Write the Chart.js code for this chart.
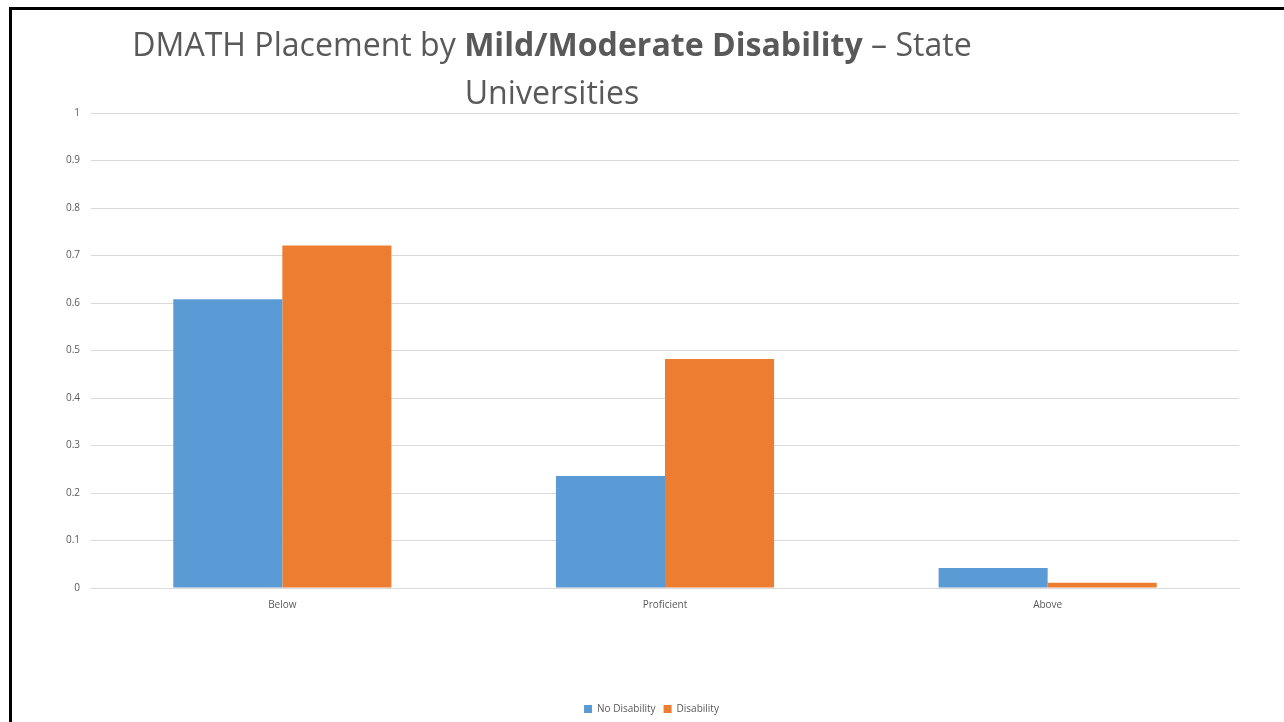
<!DOCTYPE html>
<html>
<head>
<meta charset="utf-8">
<style>
    html, body {
        margin: 0;
        padding: 0;
        width: 1284px;
        height: 722px;
        overflow: hidden;
        background: #fff;
        font-family: 'Open Sans', Arial, sans-serif;
    }
    .slide {
        position: absolute;
        left: 9px;
        top: 7px;
        width: 1400px;
        height: 800px;
        border: 3px solid #000;
        box-sizing: border-box;
    }
    .title {
        position: absolute;
        left: 52px;
        width: 1000px;
        top: 20px;
        text-align: center;
        font-size: 32.1px;
        line-height: 48px;
        color: #595959;
        white-space: nowrap;
    }
    .title b { font-weight: 700; }
    .chart-box {
        position: absolute;
        left: 0;
        top: 0;
        width: 1284px;
        height: 722px;
    }
</style>
</head>
<body>
<div class="slide"></div>
<div class="chart-box"><canvas id="placementChart"></canvas></div>
<div class="title">DMATH Placement by <b>Mild/Moderate Disability</b> – State<br>Universities</div>

<script src="https://cdn.jsdelivr.net/npm/chart.js"></script>
<script>
    // placement levels and share of students in each group
    const categories = ['Below', 'Proficient', 'Above'];
    const noDisability = [0.608, 0.236, 0.042];
    const disability = [0.721, 0.482, 0.011];
    const yTicks = [0, 0.1, 0.2, 0.3, 0.4, 0.5, 0.6, 0.7, 0.8, 0.9, 1];

    const textColor = '#595959';
    const gridColor = '#d9d9d9';

    const ctx = document.getElementById('placementChart').getContext('2d');
    new Chart(ctx, {
        type: 'bar',
        data: {
            labels: categories,
            datasets: [{
                label: 'No Disability',
                data: noDisability,
                backgroundColor: '#5B9BD5',
                borderWidth: 0
            }, {
                label: 'Disability',
                data: disability,
                backgroundColor: '#ED7D31',
                borderWidth: 0
            }]
        },
        options: {
            responsive: true,
            maintainAspectRatio: false,
            animation: false,
            layout: {
                padding: { left: 64, right: 45, top: 113, bottom: -2 }
            },
            datasets: {
                bar: { categoryPercentage: 0.57, barPercentage: 1 }
            },
            plugins: {
                tooltip: { enabled: false },
                legend: {
                    position: 'bottom',
                    labels: {
                        boxWidth: 8,
                        boxHeight: 8,
                        padding: 8,
                        color: textColor,
                        font: { family: "'Open Sans', Arial, sans-serif", size: 10 }
                    }
                }
            },
            scales: {
                x: {
                    grid: { display: false },
                    border: { color: gridColor },
                    ticks: {
                        color: textColor,
                        padding: 3,
                        font: { family: "'Open Sans', Arial, sans-serif", size: 10 }
                    },
                    afterFit(scale) { scale.height = 108; }
                },
                y: {
                    min: 0,
                    max: 1,
                    afterBuildTicks(scale) {
                        scale.ticks = yTicks.map(v => ({ value: v }));
                    },
                    grid: { color: gridColor, drawTicks: false },
                    border: { display: false },
                    ticks: {
                        color: textColor,
                        padding: 11,
                        font: { family: "'Open Sans', Arial, sans-serif", size: 10 },
                        callback: v => String(v)
                    },
                    afterFit(scale) { scale.width = 27; }
                }
            }
        }
    });
</script>
</body>
</html>
